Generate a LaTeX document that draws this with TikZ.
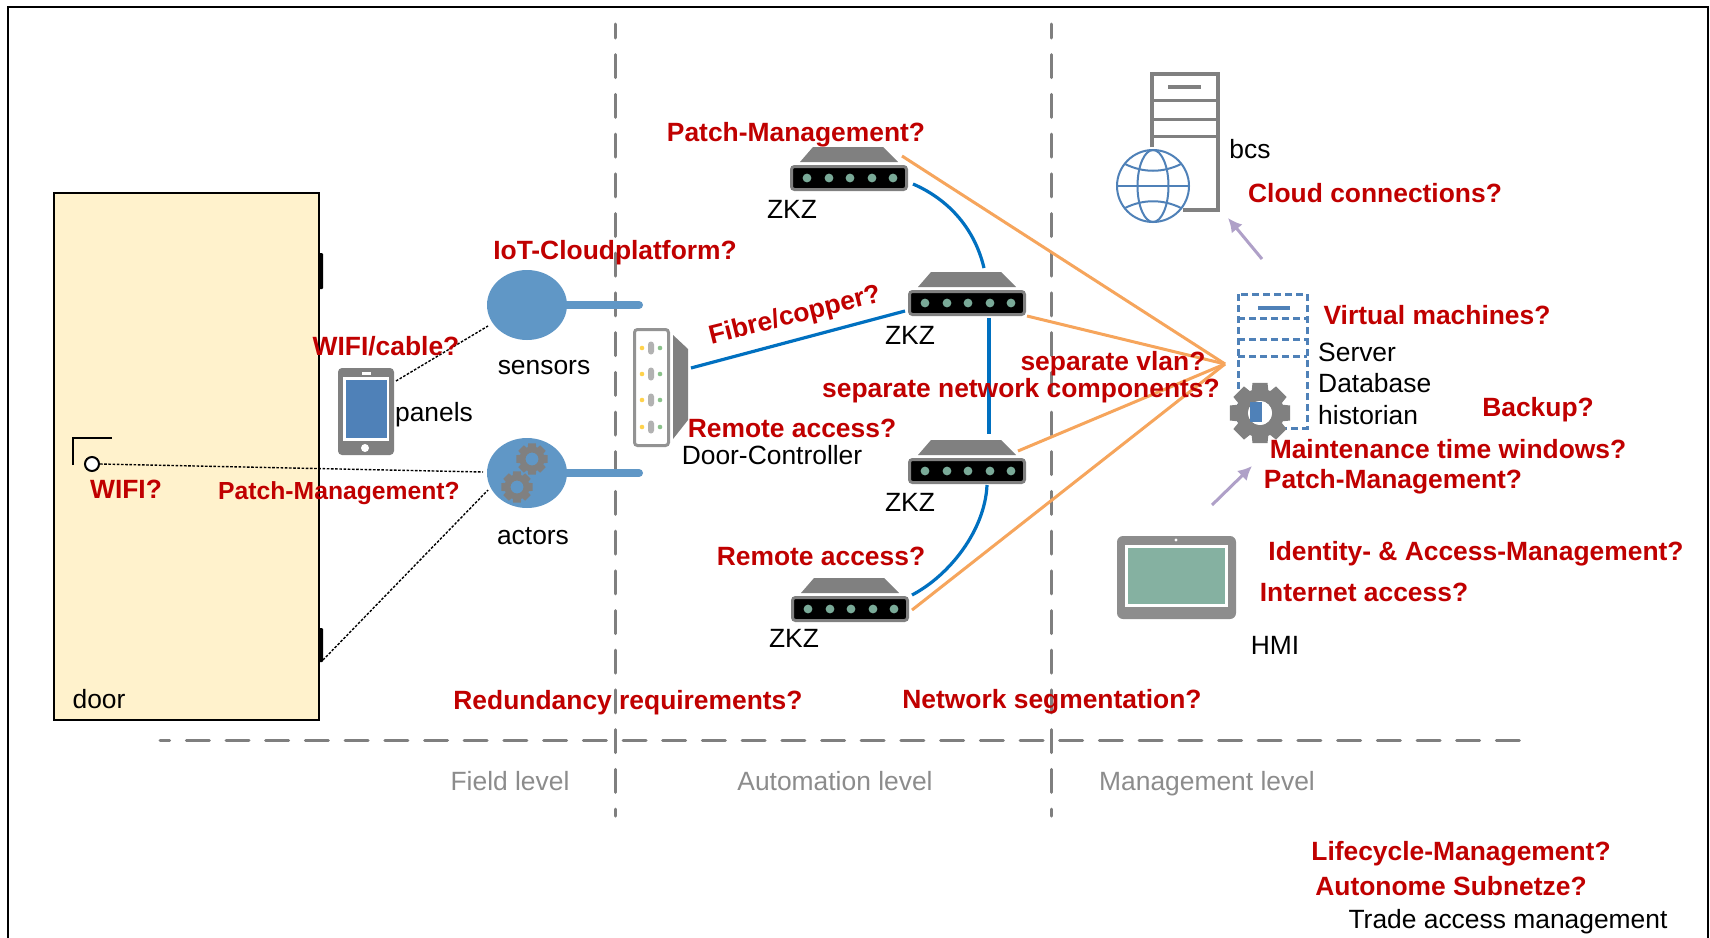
\documentclass[tikz,border=0pt]{standalone}
\usepackage{fontspec}
\setmainfont{Liberation Sans}
\usetikzlibrary{arrows.meta,calc,shapes.geometric}
\definecolor{qred}{HTML}{C00000}
\definecolor{gry}{HTML}{7F7F7F}
\definecolor{icon}{HTML}{808080}
\definecolor{dblue}{HTML}{0070C0}
\definecolor{sblue}{HTML}{6097C6}
\definecolor{mblue}{HTML}{4F81B8}
\definecolor{orng}{HTML}{F6A55C}
\definecolor{purp}{HTML}{AFA0C8}
\definecolor{grn}{HTML}{7AAA98}
\definecolor{hmig}{HTML}{85B1A1}
\definecolor{doorc}{HTML}{FFF2CC}
\tikzset{
  x=1pt,y=-1pt,
  q/.style={font=\fontsize{26.4}{30}\selectfont\bfseries,text=qred,inner sep=0pt,text height=19pt,text depth=5pt,yshift=-2pt},
  lbl/.style={font=\fontsize{26.4}{30}\selectfont,text=black,inner sep=0pt,text height=19pt,text depth=5pt,yshift=-2pt},
  lvl/.style={font=\fontsize{26.4}{30}\selectfont,text=gry!90,inner sep=0pt,text height=19pt,text depth=5pt,yshift=-2pt},
  sep/.style={draw=gry,line width=3pt,line cap=round},
  dot/.style={draw=black,line width=1.4pt,dash pattern=on 2.6pt off 1.6pt},
  blu/.style={draw=dblue,line width=3.2pt},
  org/.style={draw=orng,line width=3pt},
  parrow/.style={draw=purp,line width=3pt,-{Latex[length=14pt,width=14pt]}},
  bar/.style={draw=sblue,line width=8pt,line cap=round},
  blob/.style={ellipse,fill=sblue,minimum width=80pt,minimum height=70pt,inner sep=0pt},
}
\newcommand{\zkz}[3]{% name, left x, trap top y
  \fill[icon] ($(#2+23,#3)$) -- ($(#2+93,#3)$) -- ($(#2+108,#3+15)$) -- ($(#2+10,#3+15)$) -- cycle;
  \node[draw=icon,fill=black,line width=3pt,rounded corners=3pt,minimum width=115pt,minimum height=23pt,inner sep=0pt] (#1) at ($(#2+59,#3+31)$) {};
  \foreach \d in {17,39,60,82,103} \fill[grn] ($(#2+\d,#3+31)$) circle (4.4pt);
}
\newcommand{\gearshape}[4]{% x,y,outer r,inner r ; 8 teeth
  \begin{scope}[shift={(#1,#2)}]
  \fill[icon,even odd rule]
    (-14:#3)
    \foreach \a in {0,45,...,315}{
      -- (\a+-14:#3) -- (\a+14:#3) -- (\a+20:{#3*0.78}) -- (\a+25:{#3*0.78})
    } -- cycle
    (0,0) circle (#4pt);
  \end{scope}
}
\begin{document}
\begin{tikzpicture}
\useasboundingbox (0,0) rectangle (1710,937);
\fill[white] (0,0) rectangle (1710,937);
% frame
\draw[black,line width=1.6pt] (8,945) -- (8,7) -- (1708,7) -- (1708,945);
% door
\node[draw=black,fill=doorc,line width=2pt,minimum width=265pt,minimum height=527pt,inner sep=0pt] (door) at (186.5,456.5) {};
\fill[black,rounded corners=1pt] (319,253) rectangle (323,289);
\fill[black,rounded corners=1pt] (319,628) rectangle (323,662);
\draw[black,line width=2pt] (73,465) -- (73,438) -- (112,438);
\node[circle,draw=black,fill=white,line width=2pt,minimum size=14pt,inner sep=0pt] (lock) at (92,464) {};
% separators
\coordinate (s1a) at (615,24); \coordinate (s1b) at (615,816);
\coordinate (s2a) at (1051,24); \coordinate (s2b) at (1051,816);
\coordinate (s3a) at (160,740); \coordinate (s3b) at (1522,740);
\draw[sep,dash pattern=on 23pt off 16.7pt,dash phase=9pt] (s1a) -- (s1b);
\draw[sep,dash pattern=on 23pt off 16.7pt,dash phase=9pt] (s2a) -- (s2b);
\draw[sep,dash pattern=on 23pt off 16.7pt,dash phase=13.4pt] (s3a) -- (s3b);
% blobs
\node[blob] (sensors) at (527,305) {};
\node[blob] (actors) at (527,473) {};
\coordinate (sbar) at (639,305); \coordinate (abar) at (639,473);
\draw[bar] (sensors.center) -- (sbar);
\draw[bar] (actors.center) -- (abar);
\gearshape{532}{459}{16}{6.5}
\gearshape{517}{487}{16}{6.5}
% panel
\node[fill=icon,rounded corners=4pt,minimum width=56pt,minimum height=87pt,inner sep=0pt] (panel) at (366,411.5) {};
\fill[white] (343,377) rectangle (389,441);
\fill[mblue] (346,380) rectangle (387,438);
\fill[white] (362,372) rectangle (371,375);
\fill[white] (365,448) circle (4pt);
\coordinate (pa) at (396,381); \coordinate (pb) at (488,326);
\draw[dot] (pa) -- (pb);
\coordinate (la) at (100,464); \coordinate (lb) at (483,472);
\draw[dot] (la) -- (lb);
\coordinate (ha) at (323,660); \coordinate (hb) at (488,490);
\draw[dot] (ha) -- (hb);
% controller
\node[draw=icon!85,fill=white,line width=3pt,rounded corners=3pt,minimum width=34pt,minimum height=116pt,inner sep=0pt] (ctrl) at (651.5,387.5) {};
\fill[icon] (673,335) -- (688,349) -- (688,420) -- (673,439) -- cycle;
\foreach \y in {348,374,400,427}{
  \fill[orange!50!yellow!70!white] (642,\y) circle (2.3pt);
  \fill[green!30!gray!70] (660,\y) circle (2.3pt);
  \fill[gray!60,rounded corners=3pt] (648,\y-6.5) rectangle (654,\y+6.5);
}
% switches
\zkz{z1}{790}{147}
\zkz{z2}{908}{272}
\zkz{z3}{908}{440}
\zkz{z4}{791}{578}
% blue links
\coordinate (l1a) at (913,184); \coordinate (l1b) at (984,268);
\coordinate (l2a) at (691,368); \coordinate (l2b) at (905,311);
\coordinate (l3a) at (989,318); \coordinate (l3b) at (989,434);
\coordinate (l4a) at (987,485); \coordinate (l4b) at (912,595);
\draw[blu] (l1a) .. controls (950,200) and (975,230) .. (l1b);
\draw[blu] (l2a) -- (l2b);
\draw[blu] (l3a) -- (l3b);
\draw[blu] (l4a) .. controls (985,530) and (950,575) .. (l4b);
% orange
\coordinate (hub) at (1225,364);
\coordinate (o1) at (902,156); \coordinate (o2) at (1027,316);
\coordinate (o3) at (1018,451); \coordinate (o4) at (912,610);
\draw[org] (o1) -- (hub);
\draw[org] (o2) -- (hub);
\draw[org] (o3) -- (hub);
\draw[org] (o4) -- (hub);
% bcs server
\draw[icon,line width=4pt] (1152,147) -- (1152,74) -- (1218,74) -- (1218,210) -- (1183,210);
\draw[icon,line width=3pt] (1152,100) -- (1218,100) (1152,119) -- (1218,119) (1152,136) -- (1218,136);
\draw[icon,line width=4pt] (1168,87) -- (1201,87);
% globe
\node[circle,draw=mblue,fill=white,line width=2pt,minimum size=72pt,inner sep=0pt] (globe) at (1153,186) {};
\draw[mblue,line width=2pt] (1153,186) ellipse (15.5pt and 36pt);
\draw[mblue,line width=2pt] (1117,186) -- (1189,186);
\draw[mblue,line width=2pt] (1125,164) .. controls (1143,173) and (1163,173) .. (1181,164);
\draw[mblue,line width=2pt] (1125,208) .. controls (1143,199) and (1163,199) .. (1181,208);
% VM
\draw[mblue,line width=3pt,dash pattern=on 7pt off 4pt] (1238,294) rectangle (1307,428);
\draw[mblue,line width=3pt,dash pattern=on 7pt off 4pt] (1238,318) -- (1307,318) (1238,339) -- (1307,339) (1238,356) -- (1307,356);
\draw[mblue,line width=4pt] (1258,308) -- (1290,308);
\gearshape{1260}{413}{31}{12}
\fill[white] (1260,413) circle (12pt);
\fill[mblue] (1250,402) rectangle (1262,422);
% HMI
\node[fill=icon!90,rounded corners=6pt,minimum width=119pt,minimum height=83pt,inner sep=0pt] (hmi) at (1176.5,577.5) {};
\fill[white] (1125,545) rectangle (1228,607);
\fill[hmig] (1128,548) rectangle (1225,604);
\fill[white] (1176,540) circle (1.6pt);
% arrows
\coordinate (a1a) at (1262,259); \coordinate (a1b) at (1228,218);
\coordinate (a2a) at (1212,505); \coordinate (a2b) at (1252,466);
\draw[parrow] (a1a) -- (a1b);
\draw[parrow] (a2a) -- (a2b);
% black labels
\node[lbl] (tbcs) at (1250,149) {bcs};
\node[lbl,anchor=west] (tsrv) at (1318,352) {Server};
\node[lbl,anchor=west] (tdb) at (1318,383) {Database};
\node[lbl,anchor=west] (this) at (1318,415) {historian};
\node[lbl] (tsens) at (544,365) {sensors};
\node[lbl] (tpan) at (434,412) {panels};
\node[lbl] (tact) at (533,535) {actors};
\node[lbl] (tctl) at (772,455) {Door-Controller};
\node[lbl] (tz1) at (792,209) {ZKZ};
\node[lbl] (tz2) at (910,335) {ZKZ};
\node[lbl] (tz3) at (910,502) {ZKZ};
\node[lbl] (tz4) at (794,638) {ZKZ};
\node[lbl] (thmi) at (1275,645) {HMI};
\node[lbl] (tdoor) at (99,699) {door};
\node[lbl] (ttam) at (1508,919) {Trade access management};
% levels
\node[lvl] (lf) at (510,781) {Field level};
\node[lvl] (la2) at (835,781) {Automation level};
\node[lvl] (lm) at (1207,781) {Management level};
% red questions
\node[q] (q1) at (796,132) {Patch-Management?};
\node[q] (q2) at (615,250) {IoT-Cloudplatform?};
\node[q] (q3) at (386,346) {WIFI/cable?};
\node[q,rotate=14] (q4) at (795,314) {Fibre/copper?};
\node[q] (q5) at (792,428) {Remote access?};
\node[q] (q6) at (1113,361) {separate vlan?};
\node[q] (q7) at (1021,388) {separate network components?};
\node[q] (q8) at (126,489) {WIFI?};
\node[q,font=\fontsize{24.7}{28}\selectfont\bfseries] (q9) at (339,490) {Patch-Management?};
\node[q] (q10) at (821,556) {Remote access?};
\node[q] (q11) at (628,700) {Redundancy requirements?};
\node[q] (q12) at (1052,699) {Network segmentation?};
\node[q] (q13) at (1375,193) {Cloud connections?};
\node[q] (q14) at (1437,315) {Virtual machines?};
\node[q] (q15) at (1538,407) {Backup?};
\node[q] (q16) at (1448,449) {Maintenance time windows?};
\node[q] (q17) at (1393,479) {Patch-Management?};
\node[q] (q18) at (1476,551) {Identity- \& Access-Management?};
\node[q] (q19) at (1364,592) {Internet access?};
\node[q] (q20) at (1461,851) {Lifecycle-Management?};
\node[q] (q21) at (1451,886) {Autonome Subnetze?};
\end{tikzpicture}
\end{document}
